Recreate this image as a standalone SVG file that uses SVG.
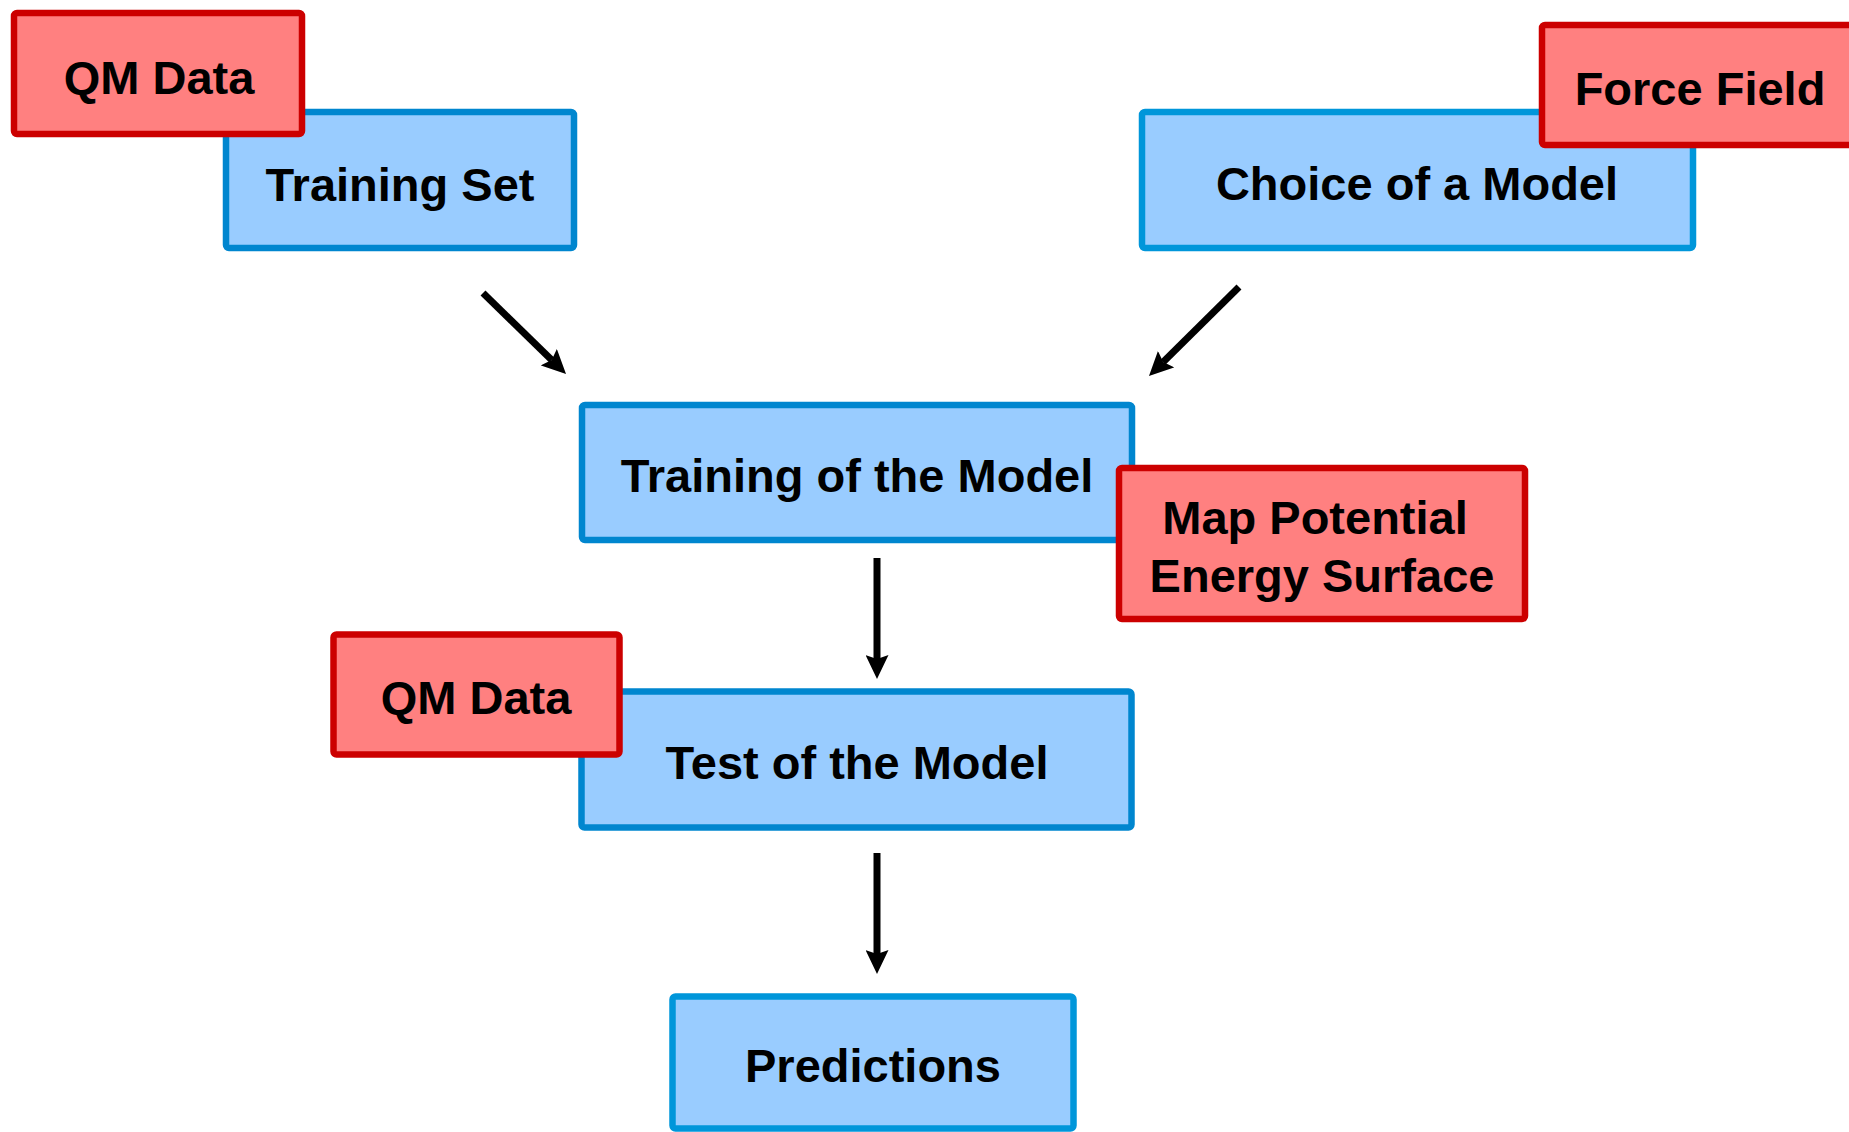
<svg xmlns="http://www.w3.org/2000/svg" width="1849" height="1132" viewBox="0 0 1849 1132">
<style>
.blue{fill:#99CCFF;stroke:#0086CF;stroke-width:6.5}
.blue2{fill:#99CCFF;stroke:#0096DA;stroke-width:6.5}
.red{fill:#FF8080;stroke:#CC0000;stroke-width:6.5}
.t{font-family:"Liberation Sans",Arial,sans-serif;font-weight:bold;font-size:47px;fill:#000;text-anchor:middle}
.c{stroke:#000;stroke-width:7;fill:none;marker-end:url(#ah)}
</style>
<defs>
<marker id="ah" markerUnits="userSpaceOnUse" markerWidth="24" markerHeight="23" viewBox="0 0 24 23" refX="4" refY="11.5" orient="auto">
<path d="M0,0 L24,11.5 L0,23 L4,11.5 z" fill="#000"/>
</marker>
</defs>
<rect width="1849" height="1132" fill="#fff"/>
<g id="connectors">
<line class="c" x1="483" y1="293" x2="551.7" y2="360"/>
<line class="c" x1="1239" y1="287" x2="1163.2" y2="362"/>
<line class="c" x1="877" y1="558" x2="877" y2="659"/>
<line class="c" x1="877" y1="853" x2="877" y2="954"/>
</g>
<g id="training-set">
<rect class="blue" x="226" y="112" width="348" height="136" rx="3"/>
<text class="t" x="400" y="201">Training Set</text>
</g>
<g id="qm-data-1">
<rect class="red" x="14" y="13" width="288" height="121" rx="3"/>
<text class="t" x="159" y="94">QM Data</text>
</g>
<g id="choice-of-model">
<rect class="blue2" x="1142" y="112" width="551" height="136" rx="3"/>
<text class="t" x="1417" y="200">Choice of a Model</text>
</g>
<g id="force-field">
<rect class="red" x="1542" y="25" width="320" height="120" rx="3"/>
<text class="t" x="1700" y="105">Force Field</text>
</g>
<g id="training-of-model">
<rect class="blue" x="582" y="405" width="550" height="135" rx="3"/>
<text class="t" x="857" y="492">Training of the Model</text>
</g>
<g id="map-pes">
<rect class="red" x="1119" y="468" width="406" height="151" rx="3"/>
<text class="t" x="1315" y="534">Map Potential</text>
<text class="t" x="1322" y="592">Energy Surface</text>
</g>
<g id="test-of-model">
<rect class="blue" x="581.5" y="691.5" width="550" height="136" rx="3"/>
<text class="t" x="857" y="779">Test of the Model</text>
</g>
<g id="qm-data-2">
<rect class="red" x="333.5" y="634.5" width="286" height="120" rx="3"/>
<text class="t" x="476" y="714">QM Data</text>
</g>
<g id="predictions">
<rect class="blue2" x="672.5" y="996.5" width="401" height="132" rx="3"/>
<text class="t" x="873" y="1082">Predictions</text>
</g>
</svg>
